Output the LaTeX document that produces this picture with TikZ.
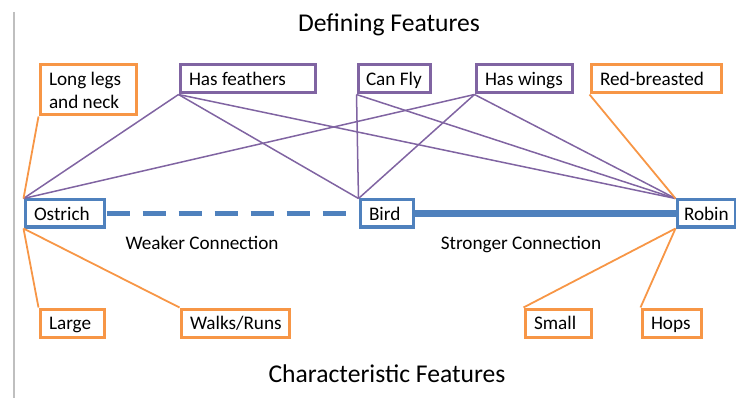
\documentclass[tikz,border=0pt]{standalone}
\usepackage{fontspec}
\setmainfont{Carlito}
\usepackage{tikz}
\usetikzlibrary{positioning}
\definecolor{mblue}{HTML}{4F81BD}
\definecolor{mpurple}{HTML}{8064A2}
\definecolor{morange}{HTML}{F79646}
\tikzset{
  box/.style = {draw, fill = white, line width = 3pt, anchor = north west,
    align = flush left, inner xsep = 9pt, inner ysep = 0pt, minimum height = 28pt,
    text height = 15pt, text depth = 2pt,
    font = \fontsize{19.2}{23}\selectfont,
    execute at begin node = {\spaceskip = 0pt\relax}},
  defbox/.style = {box, draw = mpurple},
  charbox/.style = {box, draw = morange},
  animal/.style = {box, draw = mblue, minimum height = 27pt},
  defline/.style = {mpurple, line width = 1.5pt},
  charline/.style = {morange, line width = 1.8pt},
  caption/.style = {anchor = base, font = \fontsize{19.2}{23}\selectfont},
  title/.style = {anchor = base, font = \fontsize{25.6}{30}\selectfont}
}

\begin{document}
\begin{tikzpicture}[x = 1pt, y = -1pt]
  \useasboundingbox (0, 0) rectangle (736, 398);
  \draw [black!25, line width = 2pt] (14, 12) -- (14, 398);

  \node [title] (deftitle) at (389, 32) {Defining Features};
  \node [title] (chartitle) at (387, 382) {Characteristic Features};

  % defining features
  \node [charbox, text width = 78pt, minimum height = 50pt, text height = , text depth = ]
    (legs) at (38.5, 63.5) {Long legs\\and neck};
  \node [defbox, text width = 117pt] (feathers) at (178.5, 63.5) {Has feathers};
  \node [defbox, text width = 56pt, inner xsep = 8pt] (fly) at (356.5, 63.5) {Can Fly};
  \node [defbox, text width = 78pt] (wings) at (474.5, 63.5) {Has wings};
  \node [charbox, text width = 112pt] (red) at (589.5, 63.5) {Red-breasted};

  % animals
  \node [animal, text width = 61pt] (ostrich) at (23.5, 198.5) {Ostrich};
  \node [animal, text width = 35pt] (bird) at (358.5, 198.5) {Bird};
  \node [animal, text width = 44pt, inner xsep = 7pt] (robin) at (675.5, 198.5) {Robin};

  % characteristic features
  \node [charbox, text width = 46pt] (large) at (38.5, 307.5) {Large};
  \node [charbox, text width = 90pt] (walks) at (179.5, 307.5) {Walks/Runs};
  \node [charbox, text width = 48pt] (small) at (523.5, 307.5) {Small};
  \node [charbox, text width = 41pt] (hops) at (640.5, 307.5) {Hops};

  \node [caption] (weak) at (202, 249) {Weaker Connection};
  \node [caption] (strong) at (521, 249) {Stronger Connection};

  \draw [defline] (feathers.south west) -- (ostrich.north west);
  \draw [defline] (feathers.south west) -- (bird.north west);
  \draw [defline] (feathers.south west) -- (robin.north west);
  \draw [defline] (fly.south west) -- (bird.north west);
  \draw [defline] (fly.south west) -- (robin.north west);
  \draw [defline] (wings.south west) -- (ostrich.north west);
  \draw [defline] (wings.south west) -- (bird.north west);
  \draw [defline] (wings.south west) -- (robin.north west);

  \draw [charline] (legs.south west) -- (ostrich.north west);
  \draw [charline] (ostrich.south west) -- (large.north west);
  \draw [charline] (ostrich.south west) -- (walks.north west);
  \draw [charline] (red.south west) -- (robin.north west);
  \draw [charline] (robin.south west) -- (small.north west);
  \draw [charline] (robin.south west) -- (hops.north west);

  \draw [mblue, line width = 4.5pt, dash pattern = on 23pt off 13pt]
    ([xshift = 1pt] ostrich.east) -- (bird.west);
  \draw [mblue, line width = 6.5pt] (bird.east) -- (robin.west);
\end{tikzpicture}
\end{document}
